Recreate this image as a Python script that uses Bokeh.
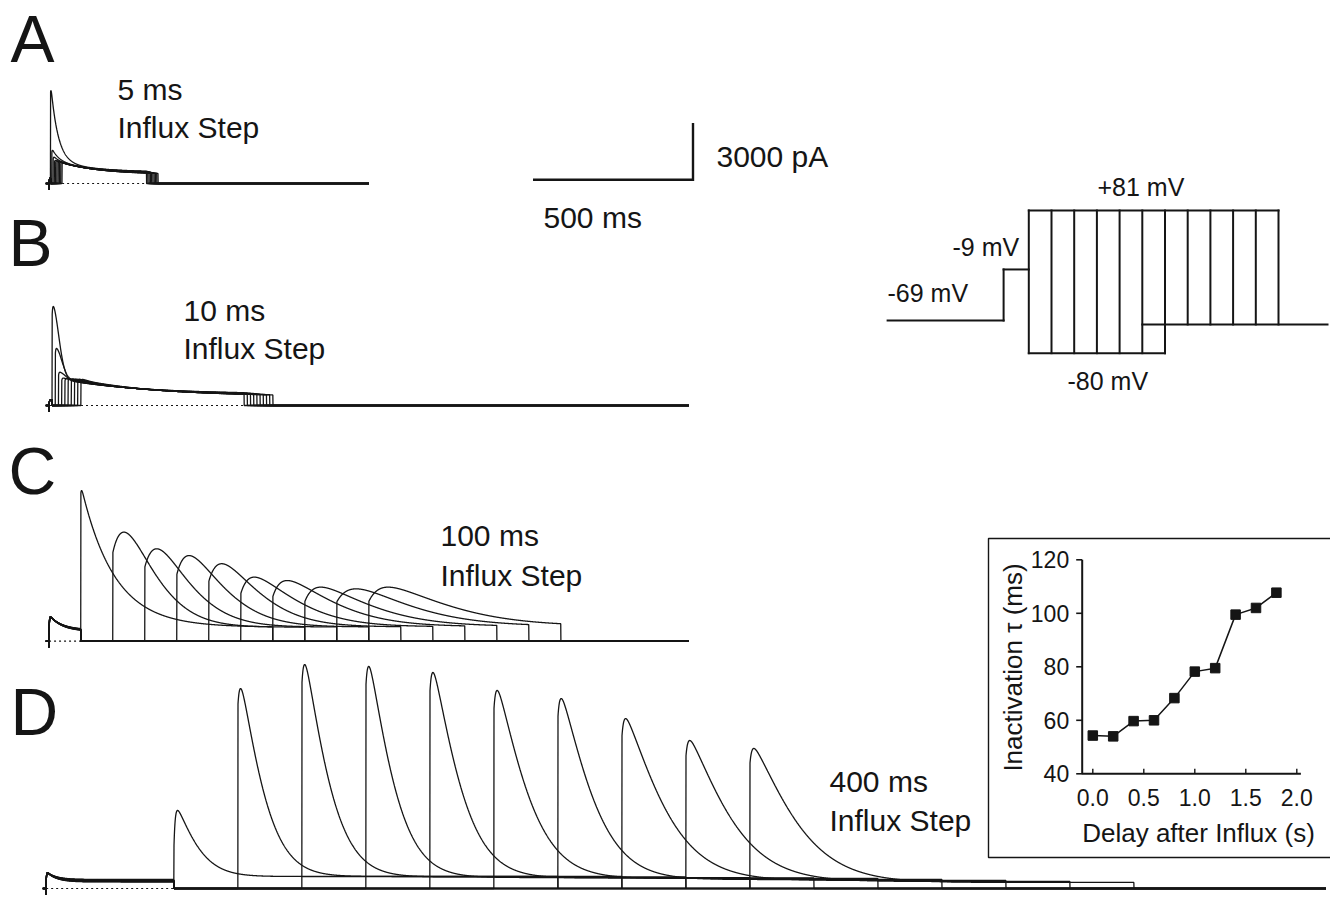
import numpy as np
from bokeh.plotting import figure
from bokeh.models import Range1d
from bokeh.core.properties import value
from bokeh.embed import file_html
from bokeh.resources import INLINE

# ======================= DATA =======================
# Common capacitive transient at the start of each record (pA)
CAP_TRANSIENT_PA = -330

# ---- Panel A : 5 ms influx step ----
A_influx_ms = 5
A_record_ms = 1000
A_pulse_ms = 300
A_onset_ms = [5, 9, 13, 17, 21, 25, 29, 33, 37, 41]
A_peak_pA = [4920, 1750, 1390, 1220, 1200, 1180, 1160, 1140, 1120, 1100]
A_tau_ms = [22, 22, 22, 22, 22, 22, 22, 22, 22, 22]
A_power = [1, 1, 1, 1, 1, 1, 1, 1, 1, 1]
A_jump = [0.9] * 10
A_rise_ms = [1.5] * 10
A_ss_pA = [600, 585, 570, 555, 540, 525, 510, 500, 490, 480]
A_slow = (635, 120)                # slow component amplitude (pA), tau (ms)
A_influx_peak_pA = 300
A_influx_plateau_pA = [300] * 10
A_influx_tau_ms = 10

# ---- Panel B : 10 ms influx step ----
B_influx_ms = 10
B_record_ms = 2000
B_pulse_ms = 600
B_onset_ms = [10, 20, 30, 40, 50, 60, 70, 80, 90, 100]
B_peak_pA = [5240, 3020, 1760, 1450, 1430, 1420, 1410, 1400, 1390, 1380]
B_tau_ms = [28, 28, 28, 28, 28, 28, 28, 28, 28, 28]
B_power = [2, 2, 2, 2, 2, 2, 2, 2, 2, 2]
B_jump = [0.9] * 10
B_rise_ms = [1.5] * 10
B_ss_pA = [600, 585, 570, 555, 540, 525, 510, 500, 490, 480]
B_slow = (875, 250)
B_influx_peak_pA = 300
B_influx_plateau_pA = [300] * 10
B_influx_tau_ms = 10

# ---- Panel C : 100 ms influx step ----
C_influx_ms = 100
C_record_ms = 2000
C_pulse_ms = 600
C_onset_ms = [100, 200, 300, 400, 500, 600, 700, 800, 900, 1000]
C_peak_pA = [7970, 5770, 4890, 4530, 4100, 3390, 3210, 2860, 2770, 2860]
C_tau_ms = [103, 150, 160, 170, 180, 200, 220, 240, 265, 285]
C_power = [1.0, 1.5, 1.5, 1.5, 1.5, 1.5, 1.5, 1.5, 1.5, 1.5]
C_jump = [0.95, 0.65, 0.65, 0.65, 0.65, 0.65, 0.65, 0.65, 0.65, 0.65]
C_rise_ms = [2, 32, 32, 28, 28, 24, 24, 26, 36, 32]
C_ss_pA = [740, 745, 750, 755, 760, 770, 780, 790, 800, 810]
C_slow = (0, 1000)
C_influx_peak_pA = 1400
C_influx_plateau_pA = [600, 590, 580, 570, 560, 550, 540, 530, 520, 510]
C_influx_tau_ms = 40

# ---- Panel D : 400 ms influx step ----
D_influx_ms = 400
D_record_ms = 4000
D_pulse_ms = 1200
D_onset_ms = [400, 600, 800, 1000, 1200, 1400, 1600, 1800, 2000, 2200]
D_peak_pA = [4130, 10580, 11850, 11750, 11430, 10480, 10050, 8990, 7830, 7410]
D_tau_ms = [80, 88, 93, 95, 105, 118, 122, 150, 158, 165]
D_power = [1.3] * 10
D_jump = [0.5, 0.85, 0.85, 0.85, 0.85, 0.85, 0.85, 0.85, 0.85, 0.85]
D_rise_ms = [4, 6, 6, 6, 6, 6, 6, 6, 6, 6]
D_ss_pA = [635, 635, 610, 580, 555, 530, 475, 425, 370, 320]
D_slow = (0, 1000)
D_influx_peak_pA = 915
D_influx_plateau_pA = [480, 465, 450, 435, 420, 405, 390, 375, 360, 345]
D_influx_tau_ms = 30

# ---- Voltage protocol (schematic) ----
proto_hold_mV = -69
proto_influx_mV = -9
proto_test_mV = 81
proto_gap_mV = -80
proto_test_steps = list(range(12))     # step boundaries (index)
proto_gap_last = 6
proto_post_first = 5

# ---- Inset: inactivation tau vs delay ----
inset_delay_s = [0.0, 0.2, 0.4, 0.6, 0.8, 1.0, 1.2, 1.4, 1.6, 1.8]
inset_tau_ms = [54.3, 54.0, 59.7, 60.0, 68.3, 78.2, 79.5, 99.5, 102.0, 107.7]
inset_xticks = [0.0, 0.5, 1.0, 1.5, 2.0]
inset_xtick_labels = ["0.0", "0.5", "1.0", "1.5", "2.0"]
inset_yticks = [40, 60, 80, 100, 120]
inset_ytick_labels = ["40", "60", "80", "100", "120"]

# Scale bar
SCALE_T_MS = 500
SCALE_I_PA = 3000

# ======================= LAYOUT / STYLE =======================
W, H = 1330, 897
FONT = "Liberation Sans"
INK = "#151515"
PX_PER_MS = 0.32
PX_PER_PA = 56.7 / 3000.0

panels = {
    # name: (x of t=0, y of zero current)
    "A": (48.5, 183.0),
    "B": (48.5, 405.0),
    "C": (48.4, 640.7),
    "D": (45.5, 888.0),
}

p = figure(width=W, height=H, output_backend="svg", toolbar_location=None,
           x_range=Range1d(0, W), y_range=Range1d(H, 0),
           min_border=0, min_border_left=0, min_border_right=0,
           min_border_top=0, min_border_bottom=0,
           x_axis_location=None, y_axis_location=None,
           outline_line_color=None, background_fill_color="white",
           border_fill_color="white")
for g in p.grid:
    g.visible = False

xr, yr = {}, {}
for name, (x0, yb) in panels.items():
    xr["t" + name] = Range1d(-x0 / PX_PER_MS, (W - x0) / PX_PER_MS)
    yr["i" + name] = Range1d((yb - H) / PX_PER_PA, yb / PX_PER_PA)

# protocol schematic ranges: x in test-step units, y in schematic level units
PR_X0, PR_DX = 1028.3, 22.7
PR_Y0, PR_DY = 320.0, 110.0
xr["proto"] = Range1d(-PR_X0 / PR_DX, (W - PR_X0) / PR_DX)
yr["proto"] = Range1d((PR_Y0 - H) / PR_DY, PR_Y0 / PR_DY)

# inset ranges
IN_X0, IN_KX = 1092.3, 102.0
IN_Y40, IN_KY = 773.3, 2.675
xr["inset"] = Range1d(-IN_X0 / IN_KX, (W - IN_X0) / IN_KX)
yr["inset"] = Range1d(40 - (H - IN_Y40) / IN_KY, 40 + IN_Y40 / IN_KY)

p.extra_x_ranges = xr
p.extra_y_ranges = yr


# ======================= TRACES =======================
def sweep_trace(t, influx_ms, inf_pk, inf_plat, inf_tau, onset, dur, peak, tau, power,
                jump, rise, ss, slow):
    slow_amp, slow_tau = slow
    I = np.zeros_like(t)
    m = (t > 0) & (t < influx_ms - 1e-9)
    ti = t[m]
    I[m] = (inf_plat + (inf_pk - inf_plat) * np.exp(-ti / inf_tau)) * (1 - np.exp(-ti / 1.2))
    I[np.isclose(t, 0.0)] = CAP_TRANSIENT_PA
    m2 = (t >= onset - 1e-9) & (t < onset + dur - 1e-9)
    tt = t[m2] - onset
    act = jump + (1 - jump) * (1 - np.exp(-tt / rise))
    g = act * np.exp(-(tt / tau) ** power)
    h = act * (ss + slow_amp * np.exp(-tt / slow_tau))
    if peak <= h.max():
        F = 0.0
    else:
        lo, hi = 0.0, peak * 10
        for _ in range(60):
            mid = 0.5 * (lo + hi)
            if (mid * g + h).max() > peak:
                hi = mid
            else:
                lo = mid
        F = 0.5 * (lo + hi)
    I[m2] = F * g + h
    return I


panel_data = {
    "A": (A_influx_ms, A_record_ms, A_pulse_ms, A_onset_ms, A_peak_pA, A_tau_ms, A_power,
          A_jump, A_rise_ms, A_ss_pA, A_slow, A_influx_peak_pA, A_influx_plateau_pA, A_influx_tau_ms),
    "B": (B_influx_ms, B_record_ms, B_pulse_ms, B_onset_ms, B_peak_pA, B_tau_ms, B_power,
          B_jump, B_rise_ms, B_ss_pA, B_slow, B_influx_peak_pA, B_influx_plateau_pA, B_influx_tau_ms),
    "C": (C_influx_ms, C_record_ms, C_pulse_ms, C_onset_ms, C_peak_pA, C_tau_ms, C_power,
          C_jump, C_rise_ms, C_ss_pA, C_slow, C_influx_peak_pA, C_influx_plateau_pA, C_influx_tau_ms),
    "D": (D_influx_ms, D_record_ms, D_pulse_ms, D_onset_ms, D_peak_pA, D_tau_ms, D_power,
          D_jump, D_rise_ms, D_ss_pA, D_slow, D_influx_peak_pA, D_influx_plateau_pA, D_influx_tau_ms),
}

for name, (inf_ms, rec_ms, dur, onsets, peaks, taus, powers, jumps, rises, sss, slow,
           inf_pk, inf_plats, inf_tau) in panel_data.items():
    t = np.arange(-10.0, rec_ms + 0.25, 0.5)
    xs, ys = [], []
    nonzero_all = np.ones_like(t, dtype=bool)
    for k in range(len(onsets)):
        I = sweep_trace(t, inf_ms, inf_pk, inf_plats[k], inf_tau, onsets[k], dur, peaks[k],
                        taus[k], powers[k], jumps[k], rises[k], sss[k], slow)
        xs.append(t)
        ys.append(I)
        nonzero_all &= (I != 0)
    nonzero_all &= (t > 0)
    p.multi_line(xs, ys, line_color=INK, line_width=1.3,
                 x_range_name="t" + name, y_range_name="i" + name)
    # dotted zero line where no sweep sits on the baseline
    idx = np.flatnonzero(nonzero_all)
    if idx.size:
        runs = np.split(idx, np.where(np.diff(idx) != 1)[0] + 1)
        x0s, x1s = [], []
        for r in runs:
            if t[r[-1]] - t[r[0]] > 4:
                x0s.append(t[r[0]])
                x1s.append(t[r[-1]])
        if x0s:
            p.segment(x0=x0s, y0=[0] * len(x0s), x1=x1s, y1=[0] * len(x0s),
                      line_color=INK, line_width=1.2, line_dash="2 3",
                      x_range_name="t" + name, y_range_name="i" + name)

# ======================= SCALE BAR =======================
xA0, ybA = panels["A"]
corner_t = (692.5 - xA0) / PX_PER_MS
corner_I = (ybA - 179.3) / PX_PER_PA
p.line([corner_t - SCALE_T_MS, corner_t, corner_t],
       [corner_I, corner_I, corner_I + SCALE_I_PA],
       line_color=INK, line_width=2.4, line_join="miter",
       x_range_name="tA", y_range_name="iA")

# ======================= PROTOCOL SCHEMATIC =======================
lvl = {proto_hold_mV: 0.0, proto_influx_mV: 0.464, proto_test_mV: 1.0,
       proto_gap_mV: -0.297}
post_lvl = -0.036
hold_start, influx_start = -6.22, -1.11
last_step = proto_test_steps[-1]
end_u = (W - 3 - PR_X0) / PR_DX
seg_x0 = [hold_start, influx_start, influx_start, 0, 0, proto_post_first]
seg_y0 = [lvl[proto_hold_mV], lvl[proto_hold_mV], lvl[proto_influx_mV],
          lvl[proto_test_mV], lvl[proto_gap_mV], post_lvl]
seg_x1 = [influx_start, influx_start, 0, last_step, proto_gap_last, end_u]
seg_y1 = [lvl[proto_hold_mV], lvl[proto_influx_mV], lvl[proto_influx_mV],
          lvl[proto_test_mV], lvl[proto_gap_mV], post_lvl]
for u in proto_test_steps:
    seg_x0.append(u)
    seg_x1.append(u)
    seg_y0.append(lvl[proto_gap_mV] if u <= proto_gap_last else post_lvl)
    seg_y1.append(lvl[proto_test_mV])
p.segment(x0=seg_x0, y0=seg_y0, x1=seg_x1, y1=seg_y1, line_color=INK,
          line_width=2.0, line_cap="square",
          x_range_name="proto", y_range_name="proto")

# ======================= INSET =======================
# frame
p.line([W + 5, 988, 988, W + 5], [538, 538, 857, 857], line_color=INK, line_width=1.4)
ax_x = (1081.7 - IN_X0) / IN_KX
p.line([ax_x, ax_x, 2.04], [120, 40, 40], line_color=INK, line_width=2.0,
       x_range_name="inset", y_range_name="inset")
p.ray(x=[ax_x] * len(inset_yticks), y=inset_yticks, length=6, angle=np.pi,
      length_units="screen", line_color=INK, line_width=1.6,
      x_range_name="inset", y_range_name="inset")
p.ray(x=inset_xticks, y=[40] * len(inset_xticks), length=5, angle=np.pi / 2,
      length_units="screen", line_color=INK, line_width=1.4,
      x_range_name="inset", y_range_name="inset")
p.line(inset_delay_s, inset_tau_ms, line_color=INK, line_width=1.5,
       x_range_name="inset", y_range_name="inset")
p.scatter(inset_delay_s, inset_tau_ms, marker="square", size=9.5,
          fill_color=INK, line_color=INK,
          x_range_name="inset", y_range_name="inset")
p.text(x=inset_xticks, y=[40] * len(inset_xticks), text=inset_xtick_labels,
       y_offset=24, text_align="center", text_baseline="middle",
       text_font=value(FONT), text_font_size="23px", text_color=INK,
       x_range_name="inset", y_range_name="inset")
p.text(x=[ax_x] * len(inset_yticks), y=inset_yticks, text=inset_ytick_labels,
       x_offset=-13, text_align="right", text_baseline="middle",
       text_font=value(FONT), text_font_size="23px", text_color=INK,
       x_range_name="inset", y_range_name="inset")

# ======================= TEXTS (canvas pixel coords) =======================
def txt(x, y, s, size, align="left", angle=0.0):
    p.text(x=[x], y=[y], text=[s], text_align=align, text_baseline="middle",
           text_font=value(FONT), text_font_size=size, text_color=INK, angle=angle)

txt(1198, 832, "Delay after Influx (s)", "26px", align="center")
txt(1012, 667, "Inactivation \u03c4 (ms)", "26px", align="center", angle=np.pi / 2)

for letter, (lx, ly) in {"A": (10, 38), "B": (8, 242), "C": (8, 470), "D": (10, 711)}.items():
    txt(lx, ly, letter, "66px")

txt(117, 89, "5 ms", "30px")
txt(117, 127, "Influx Step", "30px")
txt(183, 310, "10 ms", "30px")
txt(183, 348, "Influx Step", "30px")
txt(440, 535, "100 ms", "30px")
txt(440, 575, "Influx Step", "30px")
txt(829, 781, "400 ms", "30px")
txt(829, 820, "Influx Step", "30px")
txt(716, 156, "3000 pA", "30px")
txt(543, 217, "500 ms", "30px")

txt(1097, 186, "+81 mV", "25px")
txt(952, 246, "-9 mV", "25px")
txt(887, 292, "-69 mV", "25px")
txt(1067, 380, "-80 mV", "25px")

open("out.html", "w").write(file_html(p, INLINE))
